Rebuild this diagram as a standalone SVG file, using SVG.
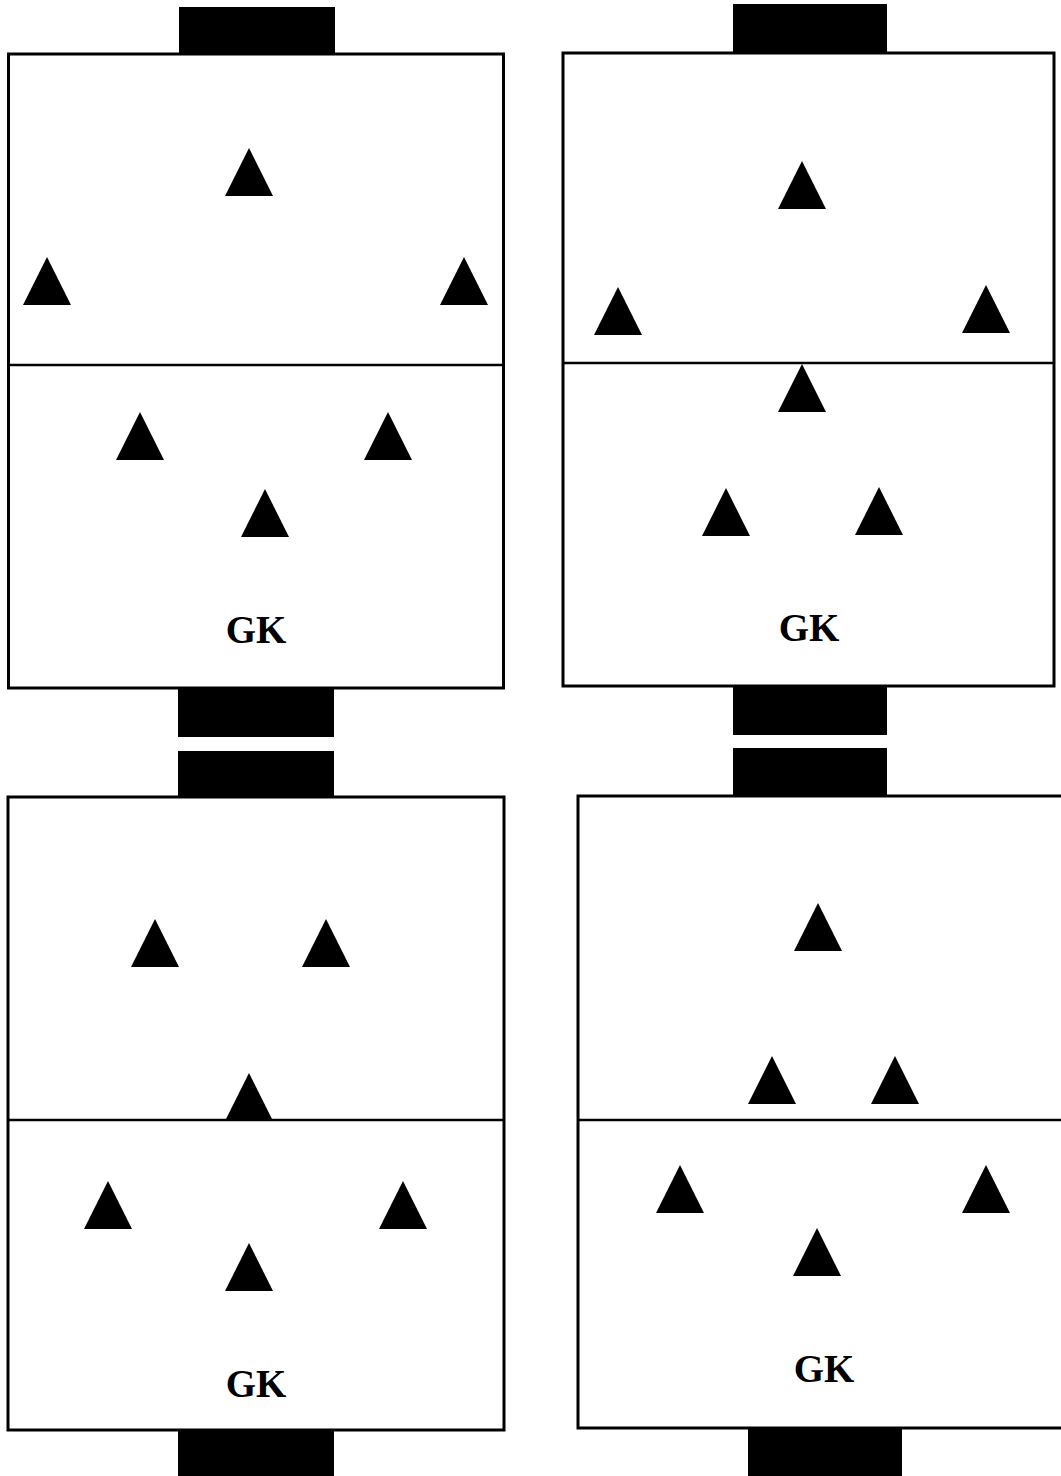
<svg xmlns="http://www.w3.org/2000/svg" xmlns:xlink="http://www.w3.org/1999/xlink" width="1061" height="1476" viewBox="0 0 1061 1476">
<style>
.field{fill:#fff;stroke:#000;stroke-width:3}
.mid{stroke:#000;stroke-width:2.5}
.goal{fill:#000}
.gk{font-family:"Liberation Serif","Times New Roman",serif;font-weight:bold;font-size:39px;text-anchor:middle;fill:#000}
</style>
<defs>
<path id="tri" d="M0,0 L24,48 L-24,48 Z" fill="#000"/>
</defs>
<rect width="1061" height="1476" fill="#fff"/>
<g id="pitch1">
<rect class="goal" x="179" y="7" width="156" height="48"/>
<rect class="goal" x="178" y="688" width="156" height="49"/>
<rect class="field" x="8.5" y="54" width="495" height="634"/>
<line class="mid" x1="8.5" y1="365" x2="503.5" y2="365"/>
<use xlink:href="#tri" x="249" y="148"/>
<use xlink:href="#tri" x="47" y="257"/>
<use xlink:href="#tri" x="464" y="257"/>
<use xlink:href="#tri" x="140" y="412"/>
<use xlink:href="#tri" x="388" y="412"/>
<use xlink:href="#tri" x="265" y="489"/>
<text class="gk" x="256" y="643">GK</text>
</g>
<g id="pitch2">
<rect class="goal" x="733" y="4" width="154" height="49"/>
<rect class="goal" x="733" y="686" width="154" height="49"/>
<rect class="field" x="563" y="53" width="491" height="633"/>
<line class="mid" x1="563" y1="363" x2="1054" y2="363"/>
<use xlink:href="#tri" x="802" y="161"/>
<use xlink:href="#tri" x="618" y="287"/>
<use xlink:href="#tri" x="986" y="285"/>
<use xlink:href="#tri" x="802" y="364"/>
<use xlink:href="#tri" x="726" y="488"/>
<use xlink:href="#tri" x="879" y="487"/>
<text class="gk" x="809" y="641">GK</text>
</g>
<g id="pitch3">
<rect class="goal" x="178" y="751" width="156" height="46"/>
<rect class="goal" x="178" y="1430" width="156" height="46"/>
<rect class="field" x="8" y="797" width="496" height="633"/>
<line class="mid" x1="8" y1="1120" x2="504" y2="1120"/>
<use xlink:href="#tri" x="155" y="919"/>
<use xlink:href="#tri" x="326" y="919"/>
<use xlink:href="#tri" x="249" y="1073"/>
<use xlink:href="#tri" x="108" y="1181"/>
<use xlink:href="#tri" x="403" y="1181"/>
<use xlink:href="#tri" x="249" y="1243"/>
<text class="gk" x="256" y="1397">GK</text>
</g>
<g id="pitch4">
<rect class="goal" x="733" y="748" width="154" height="48"/>
<rect class="goal" x="748" y="1428" width="154" height="48"/>
<rect class="field" x="578" y="796" width="500" height="632"/>
<line class="mid" x1="578" y1="1120" x2="1061" y2="1120"/>
<use xlink:href="#tri" x="818" y="903"/>
<use xlink:href="#tri" x="772" y="1056"/>
<use xlink:href="#tri" x="895" y="1056"/>
<use xlink:href="#tri" x="680" y="1165"/>
<use xlink:href="#tri" x="986" y="1165"/>
<use xlink:href="#tri" x="817" y="1228"/>
<text class="gk" x="824" y="1382">GK</text>
</g>
<g id="connectors"/>
</svg>
